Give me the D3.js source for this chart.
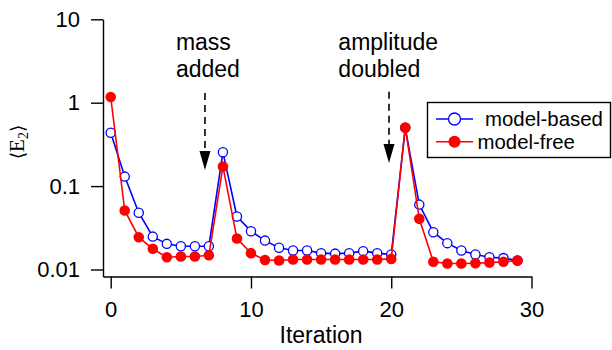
<!DOCTYPE html>
<html>
<head>
<meta charset="utf-8">
<script src="https://cdn.jsdelivr.net/npm/d3@7"></script>
<style>
  body { margin: 0; background: #fff; }
  svg { display: block; font-family: "Liberation Sans", Arial, sans-serif; }
</style>
</head>
<body>
<svg id="chart" width="612" height="350"></svg>
<script>
// iterations 0..29
const iterations = d3.range(0, 30);

const modelBased = [0.436, 0.130, 0.048, 0.0248, 0.0203, 0.019, 0.019, 0.019, 0.255, 0.0432,
  0.0288, 0.0222, 0.0182, 0.0169, 0.0169, 0.0157, 0.0155, 0.0157, 0.0166, 0.0157,
  0.0151, 0.500, 0.060, 0.028, 0.0207, 0.0169, 0.0151, 0.0140, 0.0137, 0.0128];

const modelFree = [1.17, 0.051, 0.0244, 0.0177, 0.0140, 0.0143, 0.0143, 0.0148, 0.172, 0.0235,
  0.0157, 0.0130, 0.0128, 0.0132, 0.0132, 0.0132, 0.0132, 0.0132, 0.0132, 0.0132,
  0.0134, 0.505, 0.0405, 0.0124, 0.0118, 0.0118, 0.0119, 0.0121, 0.0124, 0.0128];

const xTicks = [0, 10, 20, 30];
const yTicks = [0.01, 0.1, 1, 10];

// annotation arrows: iteration position, top and tip values
const notes = [
  { x: 6.72, top: 1.31, tip: 0.156, lines: ['mass', 'added'], tx: 4.65 },
  { x: 19.84, top: 1.35, tip: 0.189, lines: ['amplitude', 'doubled'], tx: 16.23 },
];

const svg = d3.select('#chart');

const x = d3.scaleLinear().domain([-0.55, 30]).range([103, 531.5]);
const y = d3.scaleLog().domain([0.00824, 10]).range([276.5, 19.3]);

// Axes
const xAxis = svg.append('g')
  .attr('transform', `translate(0,${y.range()[0]})`)
  .call(d3.axisBottom(x).tickValues(xTicks).tickSize(12).tickSizeOuter(0).tickPadding(13));

const yAxis = svg.append('g')
  .attr('transform', `translate(${x.range()[0]},0)`)
  .call(d3.axisLeft(y).tickValues(yTicks).tickSize(12).tickSizeOuter(0).tickPadding(11)
    .tickFormat(d => String(d)));

[xAxis, yAxis].forEach(a => {
  a.selectAll('path, line').attr('stroke', '#000').attr('stroke-width', 1.4);
  a.selectAll('text').attr('font-size', 22).attr('fill', '#000')
    .attr('font-family', '"Liberation Sans", Arial, sans-serif');
});

// Axis titles
svg.append('text')
  .attr('x', x(15)).attr('y', 343.3)
  .attr('text-anchor', 'middle')
  .attr('font-size', 23)
  .text('Iteration');

const yl = svg.append('text')
  .attr('transform', 'translate(24,142) rotate(-90)')
  .attr('text-anchor', 'middle')
  .attr('font-family', '"Liberation Serif", "DejaVu Serif", serif')
  .attr('font-size', 21);
yl.append('tspan').attr('font-family', '"DejaVu Sans", sans-serif').attr('font-size', 19).text('\u27E8');
yl.append('tspan').text('E');
yl.append('tspan').attr('font-size', 14).attr('dy', 4).text('2');
yl.append('tspan').attr('font-family', '"DejaVu Sans", sans-serif').attr('font-size', 19).attr('dy', -4).text('\u27E9');

// Series
const series = [
  { name: 'model-based', values: modelBased, color: '#0000ff', open: true, r: 4.6 },
  { name: 'model-free', values: modelFree, color: '#ff0000', open: false, r: 5.3 },
];

const line = d3.line().x(d => x(d[0])).y(d => y(d[1]));

series.forEach(s => {
  const pts = iterations.map((it, i) => [it, s.values[i]]);
  svg.append('path')
    .datum(pts)
    .attr('fill', 'none')
    .attr('stroke', s.color)
    .attr('stroke-width', 1.6)
    .attr('d', line);
  svg.append('g').selectAll('circle')
    .data(pts).join('circle')
    .attr('cx', d => x(d[0]))
    .attr('cy', d => y(d[1]))
    .attr('r', s.r)
    .attr('fill', s.open ? '#fff' : s.color)
    .attr('stroke', s.color)
    .attr('stroke-width', s.open ? 1.3 : 0);
});

// Annotations
svg.append('defs').append('marker')
  .attr('id', 'arrow')
  .attr('viewBox', '0 -5 10 10')
  .attr('refX', 10)
  .attr('refY', 0)
  .attr('markerUnits', 'userSpaceOnUse')
  .attr('markerWidth', 19)
  .attr('markerHeight', 11)
  .attr('orient', 'auto')
  .append('path')
  .attr('d', 'M0,-5L10,0L0,5Z')
  .attr('fill', '#000');

notes.forEach(n => {
  svg.append('line')
    .attr('x1', x(n.x)).attr('x2', x(n.x))
    .attr('y1', y(n.top)).attr('y2', y(n.tip) - 17)
    .attr('stroke', '#000')
    .attr('stroke-width', 1.6)
    .attr('stroke-dasharray', '7,5');
  svg.append('path')
    .attr('d', `M${x(n.x) - 5.5},${y(n.tip) - 19}L${x(n.x) + 5.5},${y(n.tip) - 19}L${x(n.x)},${y(n.tip)}Z`)
    .attr('fill', '#000');
  n.lines.forEach((t, i) => {
    svg.append('text')
      .attr('x', x(n.tx)).attr('y', 50 + i * 26.7)
      .attr('font-size', 23)
      .text(t);
  });
});

// Legend
const lg = svg.append('g');
lg.append('rect')
  .attr('x', 427.5).attr('y', 102.5)
  .attr('width', 183).attr('height', 55)
  .attr('fill', '#fff')
  .attr('stroke', '#000')
  .attr('stroke-width', 1.4);

const legendRows = [
  { s: series[0], y: 119, tx: 485 },
  { s: series[1], y: 141.7, tx: 477.5 },
];
legendRows.forEach(r => {
  lg.append('line')
    .attr('x1', 436).attr('x2', 473)
    .attr('y1', r.y).attr('y2', r.y)
    .attr('stroke', r.s.color).attr('stroke-width', 1.6);
  lg.append('circle')
    .attr('cx', 454.5).attr('cy', r.y)
    .attr('r', 6)
    .attr('fill', r.s.open ? '#fff' : r.s.color)
    .attr('stroke', r.s.color)
    .attr('stroke-width', r.s.open ? 1.3 : 0);
  lg.append('text')
    .attr('x', r.tx).attr('y', r.y)
    .attr('dy', '0.35em')
    .attr('font-size', 20.4)
    .text(r.s.name);
});
</script>
</body>
</html>
